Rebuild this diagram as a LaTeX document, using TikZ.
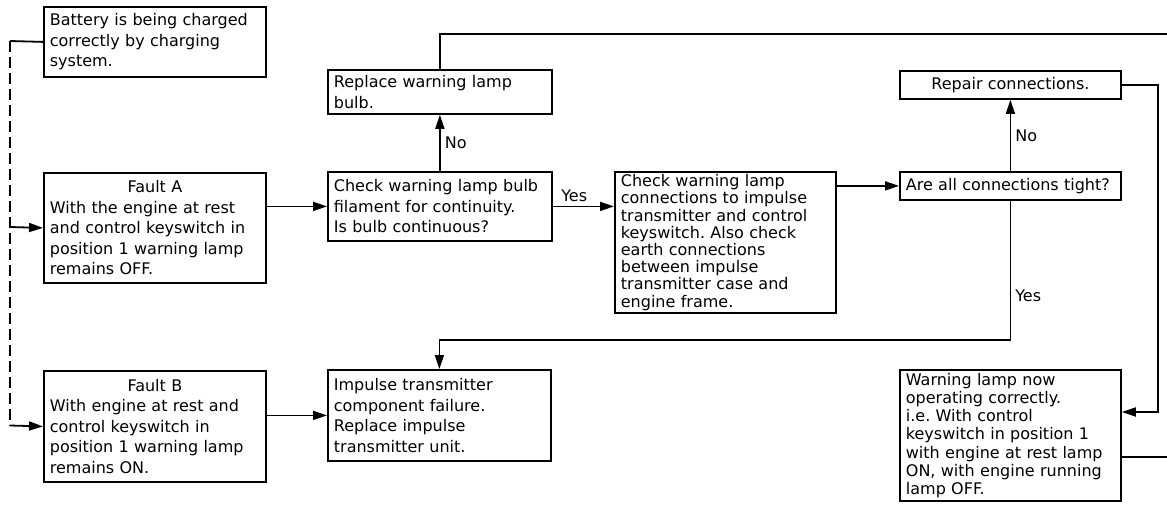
\documentclass[tikz,border=0pt]{standalone}
\usepackage{fontspec}
\setmainfont{DejaVu Sans}
\usetikzlibrary{arrows.meta}
\frenchspacing

\begin{document}
\begin{tikzpicture}[x=1pt, y=-1pt, line width=1.8pt,
  box/.style={draw, anchor=north west, align=left, inner xsep=6pt, inner ysep=2pt,
    font=\fontsize{16pt}{20.5pt}\selectfont},
  dense/.style={font=\fontsize{16pt}{17.2pt}\selectfont},
  arr/.style={-{Triangle[length=14pt,width=9pt]}},
  lbl/.style={font=\fontsize{16pt}{19pt}\selectfont, inner sep=4pt}]

\useasboundingbox (0,0) rectangle (1167,507);

% boxes
\node[box, text width=210pt, minimum height=70pt] (battery) at (43,6)
  {Battery is being charged\\correctly by charging\\system.};
\node[box, text width=210pt, minimum height=110pt] (faultA) at (43,172)
  {\makebox[210pt]{Fault A}\\With the engine at rest\\and control keyswitch in\\position 1 warning lamp\\remains OFF.};
\node[box, text width=210pt, minimum height=111pt] (faultB) at (43,370)
  {\makebox[210pt]{Fault B}\\With engine at rest and\\control keyswitch in\\position 1 warning lamp\\remains ON.};
\node[box, text width=212pt, minimum height=44pt] (replace) at (327,69)
  {Replace warning lamp\\bulb.};
\node[box, text width=212pt, minimum height=69pt] (bulbcheck) at (327,171)
  {Check warning lamp bulb\\filament for continuity.\\Is bulb continuous?};
\node[box, text width=211pt, minimum height=91pt] (impulse) at (327,369)
  {Impulse transmitter\\component failure.\\Replace impulse\\transmitter unit.};
\node[box, dense, text width=209pt, minimum height=141pt] (conncheck) at (614,171)
  {Check warning lamp\\connections to impulse\\transmitter and control\\keyswitch. Also check\\earth connections\\between impulse\\transmitter case and\\engine frame.};
\node[box, text width=209pt, minimum height=28pt] (tight) at (899,171)
  {Are all connections tight?};
\node[box, align=center, text width=209pt, minimum height=28pt] (repair) at (899,70)
  {Repair connections.};
\node[box, font=\fontsize{16pt}{18.2pt}\selectfont, text width=209pt, minimum height=131pt] (working) at (899,369)
  {Warning lamp now\\operating correctly.\\i.e. With control\\keyswitch in position 1\\with engine at rest lamp\\ON, with engine running\\lamp OFF.};

% free ends
\coordinate (lefttop) at (10,41);
\coordinate (leftA) at (10,227);
\coordinate (leftB) at (10,425.5);
\coordinate (topout) at (1167,34);
\coordinate (rightline) at (1158,412);
\coordinate (rightout) at (1167,457);

% connectors
\draw (battery.west) -- (lefttop);
\draw[dash pattern=on 11pt off 5pt] (lefttop) -- (leftB);
\draw[arr] (leftB) -- (faultB.west);
\draw[arr] (leftA) -- (faultA.west);
\draw[arr] (faultA.east |- bulbcheck.west) -- (bulbcheck.west);
\draw[arr] (bulbcheck.north) -- node[lbl, right] {No} (replace.south);
\draw (replace.north) |- (topout);
\draw[arr] (bulbcheck.east) -- node[lbl, above, pos=0.35] {Yes} (bulbcheck.east -| conncheck.west);
\draw[arr] (tight.west -| conncheck.east) -- (tight.west);
\draw[arr] (tight.north) -- node[lbl, right] {No} (repair.south);
\draw[arr] (tight.south) -- node[lbl, right, pos=0.68] {Yes} (tight.south |- 0,340) -| (impulse.north);
\draw[arr] (faultB.east |- impulse.west) -- (impulse.west);
\draw[arr] (repair.east) -| (rightline) -- (working.east |- rightline);
\draw (working.east |- rightout) -- (rightout);

\end{tikzpicture}
\end{document}
